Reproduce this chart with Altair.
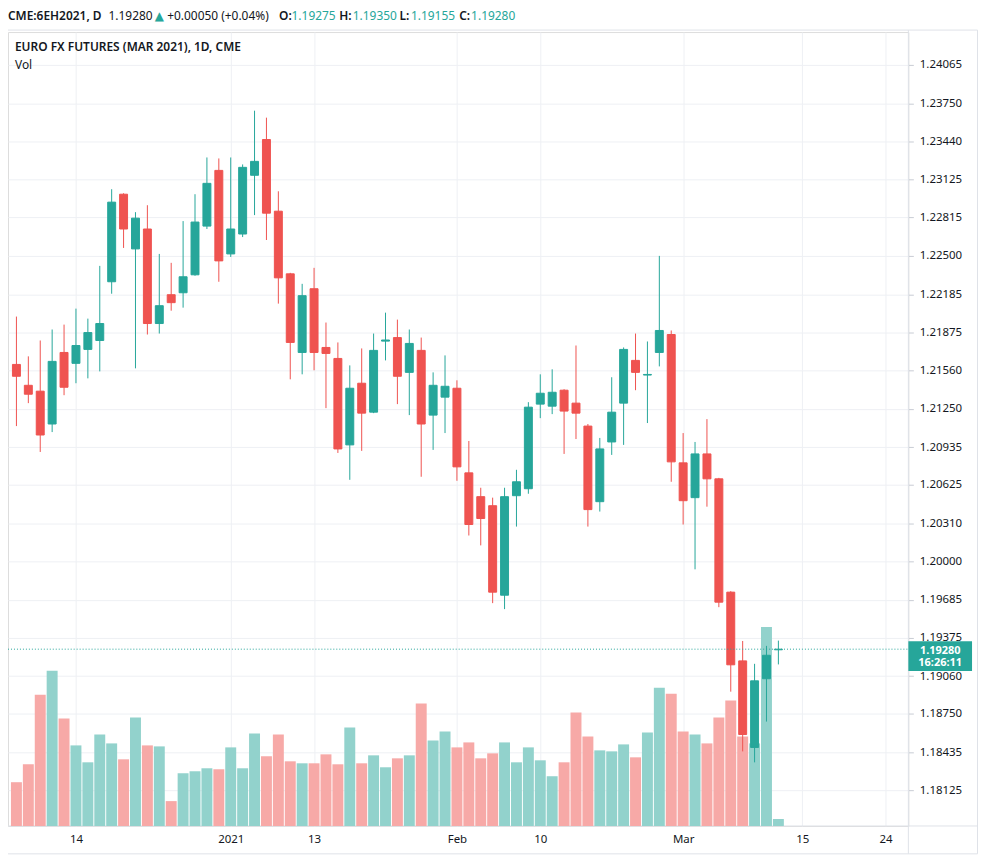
import altair as alt
import pandas as pd

# ---- data (daily bars, Dec 7 2020 .. Mar 11 2021, trading days only) ----
opens = [1.21612, 1.21441, 1.21393, 1.21124, 1.21710, 1.21621, 1.21735, 1.21808, 1.22289, 1.23006,
         1.22558, 1.22721, 1.21947, 1.22183, 1.22199, 1.22346, 1.22745, 1.23201, 1.22517, 1.22680,
         1.23161, 1.23454, 1.22867, 1.22354, 1.21710, 1.22232, 1.21751, 1.21661, 1.20953, 1.21458,
         1.21221, 1.21803, 1.21832, 1.21547, 1.21727, 1.21197, 1.21344, 1.21417, 1.20724, 1.20529,
         1.20455, 1.19722, 1.20537, 1.20594, 1.21287, 1.21270, 1.21401, 1.21295, 1.21107, 1.20488,
         1.20977, 1.21295, 1.21645, 1.21525, 1.21710, 1.21857, 1.20806, 1.20521, 1.20879, 1.20675,
         1.19747, 1.19184, 1.18475, 1.19038, 1.19275]
highs = [1.22004, 1.21678, 1.21808, 1.21898, 1.21938, 1.22069, 1.21987, 1.22419, 1.23047, 1.23014,
         1.22859, 1.22916, 1.22517, 1.22444, 1.22786, 1.23006, 1.23307, 1.23299, 1.23307, 1.23250,
         1.23690, 1.23633, 1.23030, 1.22362, 1.22272, 1.22403, 1.21955, 1.21792, 1.21604, 1.21743,
         1.21865, 1.22036, 1.21979, 1.21898, 1.21832, 1.21547, 1.21686, 1.21482, 1.20985, 1.20602,
         1.20521, 1.20602, 1.20749, 1.21303, 1.21531, 1.21572, 1.21409, 1.21767, 1.21124, 1.21010,
         1.21507, 1.21751, 1.21865, 1.21800, 1.22501, 1.21890, 1.21050, 1.20977, 1.21164, 1.20683,
         1.19755, 1.19347, 1.19160, 1.19307, 1.19350]
lows = [1.21107, 1.21295, 1.20895, 1.21058, 1.21360, 1.21458, 1.21498, 1.21555, 1.22191, 1.22566,
        1.21580, 1.21857, 1.21865, 1.22052, 1.22077, 1.22338, 1.22721, 1.22289, 1.22492, 1.22655,
        1.22835, 1.22631, 1.22110, 1.21490, 1.21531, 1.21564, 1.21254, 1.20887, 1.20667, 1.20904,
        1.21213, 1.21645, 1.21287, 1.21197, 1.20692, 1.20912, 1.21050, 1.20659, 1.20211, 1.20130,
        1.19657, 1.19608, 1.20284, 1.20553, 1.21172, 1.21205, 1.20879, 1.21001, 1.20284, 1.20407,
        1.20871, 1.20953, 1.21401, 1.21132, 1.21596, 1.20651, 1.20301, 1.19934, 1.20447, 1.19624,
        1.18932, 1.18443, 1.18353, 1.18687, 1.19155]
closes = [1.21515, 1.21368, 1.21034, 1.21637, 1.21425, 1.21767, 1.21873, 1.21947, 1.22941, 1.22721,
          1.22810, 1.21947, 1.22093, 1.22118, 1.22330, 1.22778, 1.23095, 1.22460, 1.22721, 1.23226,
          1.23275, 1.22851, 1.22321, 1.21792, 1.22175, 1.21710, 1.21702, 1.20920, 1.21417, 1.21213,
          1.21727, 1.21812, 1.21515, 1.21784, 1.21124, 1.21441, 1.21433, 1.20773, 1.20301, 1.20350,
          1.19747, 1.20529, 1.20651, 1.21262, 1.21376, 1.21384, 1.21230, 1.21213, 1.20423, 1.20920,
          1.21221, 1.21735, 1.21547, 1.21530, 1.21890, 1.20814, 1.20496, 1.20879, 1.20675, 1.19665,
          1.19152, 1.18581, 1.19021, 1.19230, 1.19280]
volumes = [44, 62, 132, 156, 108, 81, 64, 92, 83, 67,
           109, 81, 80, 25, 53, 55, 58, 57, 79, 58,
           93, 70, 92, 65, 63, 63, 72, 62, 99, 63,
           71, 59, 68, 71, 123, 86, 95, 79, 84, 68,
           73, 84, 64, 79, 66, 50, 64, 114, 90, 76,
           75, 82, 69, 94, 139, 133, 95, 92, 83, 109,
           126, 90, 83, 200, 7]

tick_idx = [5, 18, 25, 37, 44, 56, 66, 73]
tick_labels = ["14", "2021", "13", "Feb", "10", "Mar", "15", "24"]
price_ticks = [1.18125, 1.18435, 1.18750, 1.19060, 1.19375, 1.19685, 1.20000, 1.20310,
               1.20625, 1.20935, 1.21250, 1.21560, 1.21875, 1.22185, 1.22500, 1.22815,
               1.23125, 1.23440, 1.23750, 1.24065]
last_price = 1.19280

df = pd.DataFrame({"i": list(range(len(opens))), "open": opens, "high": highs,
                   "low": lows, "close": closes, "vol": volumes})

# ---- styling ----
W, H = 905, 798
FONT = "Noto Sans, DejaVu Sans"
TXT = "#131722"
TEAL = "#26a69a"
RED = "#ef5350"
GRID = "#eef0f4"
FRAME = "#dfe2e8"

label_expr = " : ".join(f"datum.value == {i} ? '{l}'" for i, l in zip(tick_idx, tick_labels)) + " : ''"

xenc = alt.X("i:Q", title=None,
             scale=alt.Scale(domain=[-0.29, 74.5], nice=False, zero=False),
             axis=alt.Axis(values=tick_idx, labelExpr=label_expr, grid=True, gridColor=GRID,
                           ticks=False, domain=False, labelFlush=False, labelOverlap=False,
                           labelFont=FONT, labelFontSize=11.5, labelColor=TXT, labelPadding=8))

yscale = alt.Scale(domain=[1.17832, 1.24334], nice=False, zero=False)
yaxis = alt.Axis(orient="right", values=price_ticks, format=".5f", grid=True, gridColor=GRID,
                 ticks=True, tickSize=5, tickColor="#c8ccd4", domain=False,
                 labelFont=FONT, labelFontSize=11.5, labelColor=TXT, labelPadding=6,
                 labelOverlap=False, labelFlush=False)


def ypos(field):
    return alt.Y(field, type="quantitative", scale=yscale, axis=yaxis, title=None)


up = "datum.close >= datum.open"

volume = alt.Chart(df).mark_bar(size=11).encode(
    x=xenc,
    y=alt.Y("vol:Q", scale=alt.Scale(domain=[0, H], nice=False), axis=None),
    color=alt.condition(up, alt.value("#92d2cc"), alt.value("#f7a9a7")),
)

wicks = alt.Chart(df).mark_rule(strokeWidth=1).encode(
    x=xenc, y=ypos("low"), y2="high",
    color=alt.condition(up, alt.value(TEAL), alt.value(RED)),
)

bodies = alt.Chart(df).mark_bar(size=8, strokeWidth=1).encode(
    x=xenc, y=ypos("open"), y2="close",
    color=alt.condition(up, alt.value(TEAL), alt.value(RED)),
    stroke=alt.condition(up, alt.value(TEAL), alt.value(RED)),
)

last_df = pd.DataFrame({"p": [last_price], "label": [f"{last_price:.5f}"], "timer": ["16:26:11"]})

price_line = alt.Chart(last_df).mark_rule(strokeDash=[1, 2], color=TEAL, strokeWidth=1).encode(
    y=ypos("p"), x=alt.value(0), x2=alt.value(W))

price_box = alt.Chart(last_df).mark_rect(color=TEAL, yOffset=-8, y2Offset=22).encode(
    y=ypos("p"), y2="p", x=alt.value(W), x2=alt.value(W + 64))

price_txt = alt.Chart(last_df).mark_text(color="white", font=FONT, fontSize=11, fontWeight="bold",
                                         align="center", baseline="middle", dy=1.5).encode(
    y=ypos("p"), x=alt.value(W + 32), text="label:N")

timer_txt = alt.Chart(last_df).mark_text(color="white", font=FONT, fontSize=11, fontWeight="bold",
                                         align="center", baseline="middle", dy=14).encode(
    y=ypos("p"), x=alt.value(W + 32), text="timer:N")

one = alt.Data(values=[{}])


def label(text, x, y, color=TXT, weight="normal", size=12):
    return alt.Chart(one).mark_text(align="left", baseline="middle", font=FONT, fontSize=size,
                                    fontWeight=weight, color=color).encode(
        x=alt.value(x), y=alt.value(y), text=alt.value(text))


header = [
    ("CME:6EH2021, D", 0, TXT, 600),
    ("1.19280", 101, TXT, "normal"),
    ("\u25b2", 147.5, TEAL, "normal"),
    ("+0.00050 (+0.04%)", 160, TXT, "normal"),
    ("O:", 272.5, TXT, 600),
    ("1.19275", 285, TEAL, "normal"),
    ("H:", 333, TXT, 600),
    ("1.19350", 346.5, TEAL, "normal"),
    ("L:", 393.5, TXT, 600),
    ("1.19155", 405, TEAL, "normal"),
    ("C:", 453.5, TXT, 600),
    ("1.19280", 465.5, TEAL, "normal"),
]
header_layers = [label(t, x, -16, c, w) for t, x, c, w in header]
title_layers = [
    label("EURO FX FUTURES (MAR 2021), 1D, CME", 7, 15, TXT, 600, 12),
    label("Vol", 7, 33, TXT, "normal", 12),
]

frame = alt.Chart(one).mark_rect(fill=None, stroke=FRAME, strokeWidth=1).encode(
    x=alt.value(-2), x2=alt.value(974.5), y=alt.value(-2), y2=alt.value(826))
vline = alt.Chart(one).mark_rule(color=FRAME, strokeWidth=1).encode(
    x=alt.value(W), y=alt.value(-2), y2=alt.value(826))
hline = alt.Chart(one).mark_rule(color=FRAME, strokeWidth=1).encode(
    x=alt.value(-2), x2=alt.value(974.5), y=alt.value(H))

price_layers = alt.layer(wicks, bodies, price_line, price_box, price_txt, timer_txt)

chart = alt.layer(
    frame, vline, hline, volume, price_layers, *header_layers, *title_layers
).resolve_scale(y="independent").properties(
    width=W, height=H,
    autosize=alt.AutoSizeParams(type="none"),
    padding={"left": 0, "top": 22, "right": 72, "bottom": 30},
).configure_view(stroke=None).configure(background="white")

chart.save("out.html", embed_options={"renderer": "svg", "actions": False})
